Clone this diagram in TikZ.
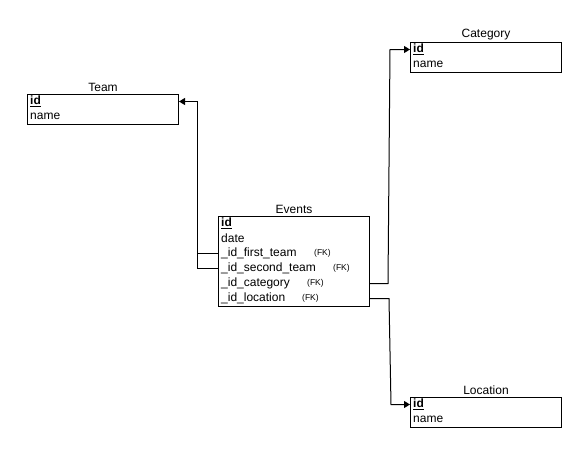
\documentclass[tikz,border=0pt]{standalone}
\usepackage{fontspec}
\setmainfont{Liberation Sans}
\usetikzlibrary{calc,arrows.meta}

\tikzset{
  tbl/.style={draw,line width=1pt,minimum width=151pt,anchor=north west,inner sep=0pt},
  ttl/.style={font=\fontsize{12}{14}\selectfont,inner sep=0pt},
  rw/.style={anchor=west,inner sep=0pt,font=\fontsize{12}{14}\selectfont},
  fklbl/.style={anchor=west,inner sep=0pt,font=\fontsize{8.5}{10}\selectfont},
  fk/.style={line width=1pt,-{Triangle[length=6pt,width=7pt]}}
}

\begin{document}
\begin{tikzpicture}[x=1pt,y=-1pt]
\useasboundingbox (0,0) rectangle (587,453);

% tables
\node[tbl,minimum height=30pt] (team) at (27,94) {};
\node[ttl] at ($(team.north)+(0,-7)$) {Team};
\node[rw] (team-id) at (30,101.5) {\underline{\textbf{id}}};
\node[rw] (team-name) at (30,116.5) {name};

\node[tbl,minimum height=30pt] (category) at (410,42) {};
\node[ttl] at ($(category.north)+(0,-7)$) {Category};
\node[rw] (cat-id) at (413,49.5) {\underline{\textbf{id}}};
\node[rw] (cat-name) at (413,64.5) {name};

\node[tbl,minimum height=30pt] (location) at (410,397) {};
\node[ttl] at ($(location.north)+(0,-7)$) {Location};
\node[rw] (loc-id) at (413,404.5) {\underline{\textbf{id}}};
\node[rw] (loc-name) at (413,419.5) {name};

\node[tbl,minimum height=90pt] (events) at (218,216) {};
\node[ttl] at ($(events.north)+(0,-7)$) {Events};
\node[rw] (ev-id) at (221,223.5) {\underline{\textbf{id}}};
\node[rw] (ev-date) at (221,238.5) {date};
\node[rw] (ev-first) at (221,253.5) {\_id\_first\_team};
\node[rw] (ev-second) at (221,268.5) {\_id\_second\_team};
\node[rw] (ev-cat) at (221,283.5) {\_id\_category};
\node[rw] (ev-loc) at (221,298.5) {\_id\_location};
\node[fklbl] at (314,253.5) {(FK)};
\node[fklbl] at (333,268.5) {(FK)};
\node[fklbl] at (307,283.5) {(FK)};
\node[fklbl] at (302,298.5) {(FK)};

% links
\draw[line width=1pt] (events.west |- ev-second) -- ++(-21,0) |- (events.west |- ev-first);
\draw[fk] (events.west |- ev-first) -- ++(-21,0) |- (team.east |- team-id);

\draw[fk] (events.east |- ev-cat) -- ++(18,0) -- ($(category.west |- cat-id)+(-20,0)$) -- (category.west |- cat-id);
\draw[fk] (events.east |- ev-loc) -- ++(19,0) -- ($(location.west |- loc-id)+(-19,0)$) -- (location.west |- loc-id);

\end{tikzpicture}
\end{document}
